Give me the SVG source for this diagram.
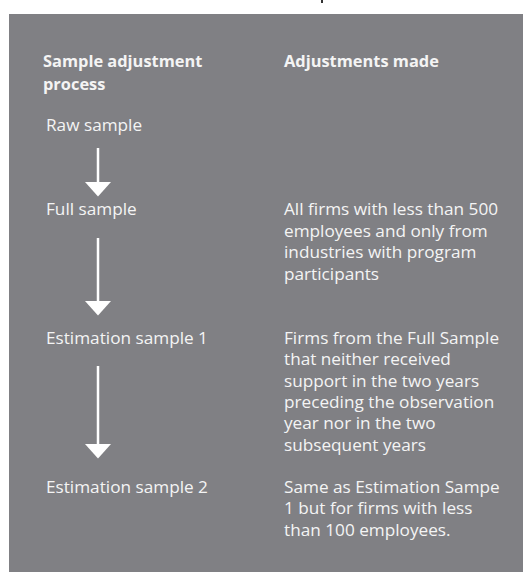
<svg xmlns="http://www.w3.org/2000/svg" width="523" height="572" viewBox="0 0 523 572">
<style>
text{font-family:"Open Sans","Noto Sans",sans-serif;font-size:17.2px;fill:#f4f4f4}
.h{font-weight:bold;font-size:16.4px}
.conn{stroke:#ffffff;stroke-width:2.5;fill:none}
</style>
<defs>
<marker id="ah" markerUnits="userSpaceOnUse" markerWidth="15" markerHeight="26" refX="0" refY="13" orient="auto">
<path d="M0,0 L14.5,13 L0,26 z" fill="#ffffff"/>
</marker>
</defs>
<rect x="0" y="0" width="523" height="572" fill="#ffffff"/>
<rect x="321" y="0" width="2" height="3" fill="#333333"/>
<rect id="panel" x="9" y="14" width="514" height="558" fill="#808084"/>
<g id="header-left"><text class="h" x="43" y="67">Sample adjustment</text><text class="h" x="43" y="90">process</text></g>
<g id="header-right"><text class="h" x="284" y="67">Adjustments made</text></g>
<g id="raw-sample"><text x="46" y="131">Raw sample</text></g>
<g id="full-sample"><text x="46" y="215">Full sample</text></g>
<g id="full-sample-note"><text x="284" y="215">All firms with less than 500</text><text x="284" y="236.5">employees and only from</text><text x="284" y="258">industries with program</text><text x="284" y="279.5">participants</text></g>
<g id="estimation-sample-1"><text x="46" y="344">Estimation sample 1</text></g>
<g id="estimation-sample-1-note"><text x="284" y="344">Firms from the Full Sample</text><text x="284" y="365.3">that neither received</text><text x="284" y="386.6">support in the two years</text><text x="284" y="407.9">preceding the observation</text><text x="284" y="429.2">year nor in the two</text><text x="284" y="450.5">subsequent years</text></g>
<g id="estimation-sample-2"><text x="46" y="493">Estimation sample 2</text></g>
<g id="estimation-sample-2-note"><text x="284" y="493">Same as Estimation Sampe</text><text x="284" y="514.3">1 but for firms with less</text><text x="284" y="535.6">than 100 employees.</text></g>
<g id="connectors">
<line class="conn" x1="98" y1="148" x2="98" y2="182" marker-end="url(#ah)"/>
<line class="conn" x1="98" y1="238" x2="98" y2="301" marker-end="url(#ah)"/>
<line class="conn" x1="98" y1="366" x2="98" y2="444" marker-end="url(#ah)"/>
</g>
</svg>
